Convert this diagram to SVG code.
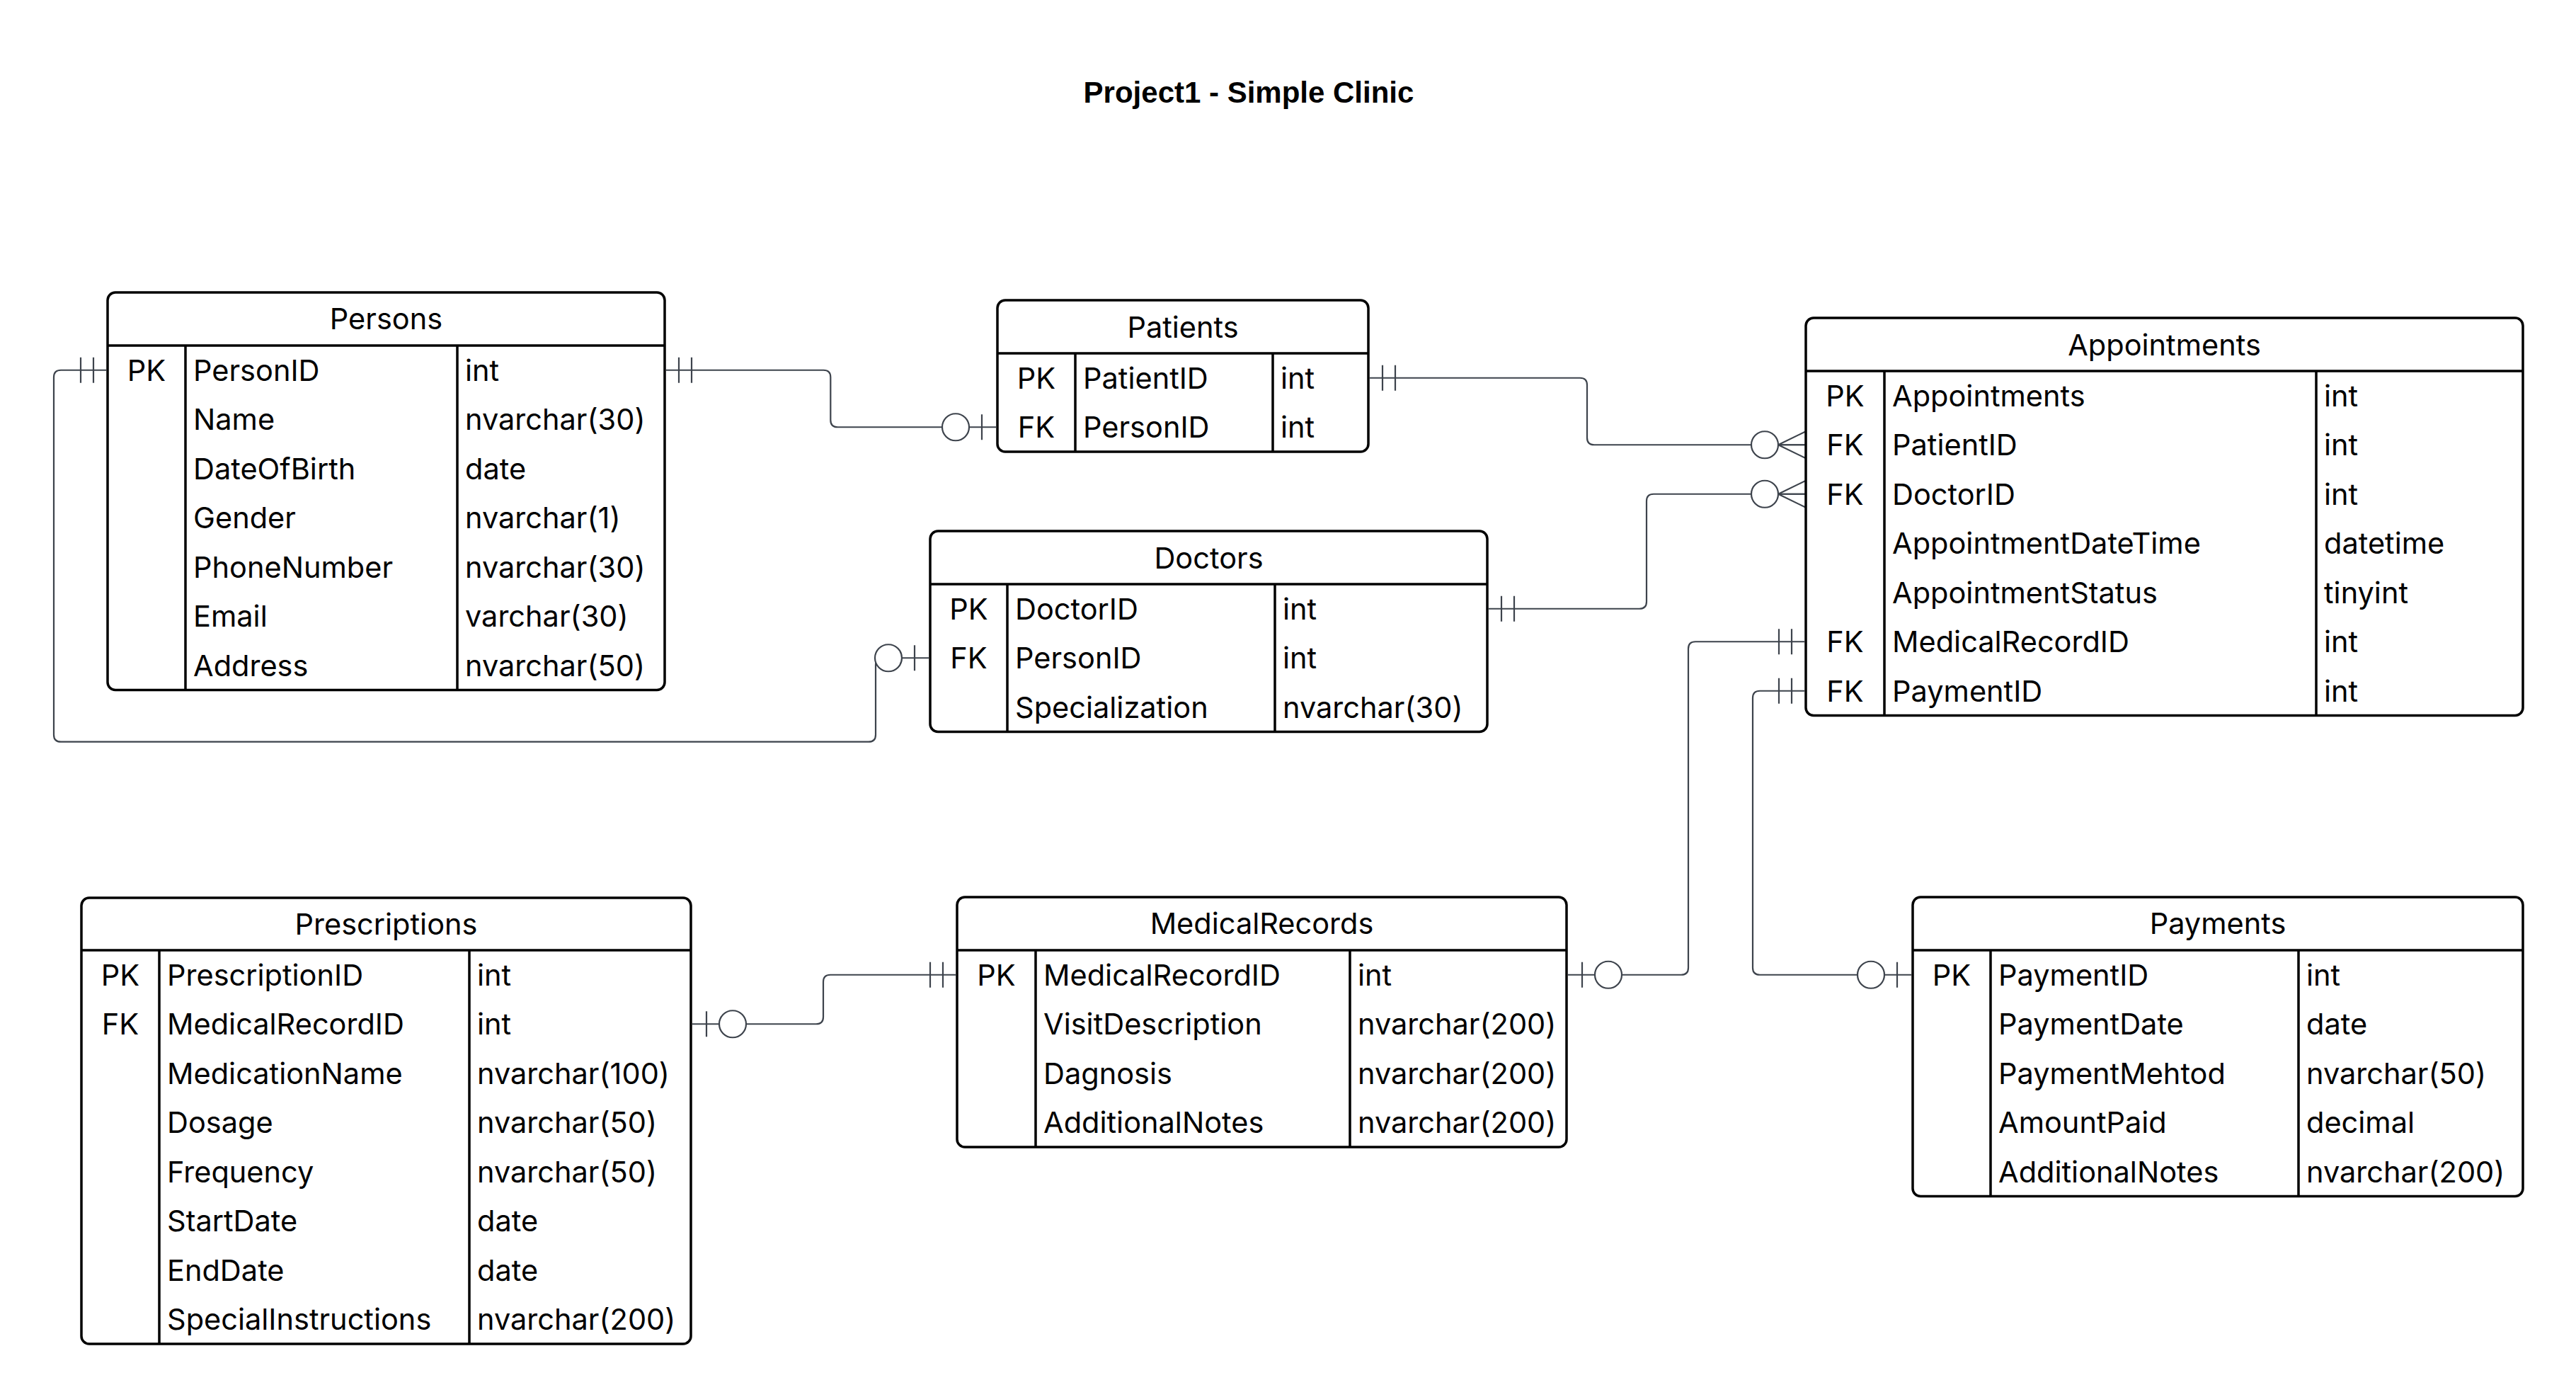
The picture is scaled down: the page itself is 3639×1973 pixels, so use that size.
<svg xmlns="http://www.w3.org/2000/svg" xmlns:xlink="http://www.w3.org/1999/xlink" width="3639" height="1973" viewBox="0 0 3639 1973">
<style>
.bg{fill:#ffffff}
.box{fill:#ffffff;stroke:#000000;stroke-width:3.5}
.ln{fill:none;stroke:#000000;stroke-width:3.5}
.t{font-family:Inter,"Noto Sans","Liberation Sans",sans-serif;font-size:41.5px;fill:#000000}
.h{text-anchor:middle}
.k{text-anchor:middle}
.title{font-family:"Liberation Sans",Arial,sans-serif;font-size:42px;font-weight:bold;fill:#000000;text-anchor:middle}
.con{fill:none;stroke:#3d434c;stroke-width:2.2}
.end{fill:#ffffff;stroke:#3d434c;stroke-width:2.2}
</style>
<defs>
<g id="mandOne"><path class="con" d="M20,-18 V18 M38,-18 V18"/></g>
<g id="zeroOne"><path class="con" d="M22,-18 V18"/><circle class="end" cx="59" cy="0" r="19"/></g>
<g id="zeroMany"><circle class="end" cx="58" cy="0" r="19"/><path class="con" d="M39,0 L0,-19 M39,0 L0,0 M39,0 L0,19"/></g>
</defs>
<rect class="bg" x="0" y="0" width="3639" height="1973"/>
<text class="title" x="1764" y="145">Project1 - Simple Clinic</text>

<g id="connectors">
<path class="con" d="M941,522.75 H1163.3 Q1173.3,522.75 1173.3,532.75 V593.25 Q1173.3,603.25 1183.3,603.25 H1407"/>
<path class="con" d="M150,522.75 H86 Q76,522.75 76,532.75 V1037.7 Q76,1047.7 86,1047.7 H1227 Q1237,1047.7 1237,1037.7 V939.25 Q1237,929.25 1247,929.25 H1312"/>
<path class="con" d="M1935,533.75 H2232 Q2242,533.75 2242,543.75 V618.25 Q2242,628.25 2252,628.25 H2549"/>
<path class="con" d="M2103,859.75 H2316 Q2326,859.75 2326,849.75 V707.75 Q2326,697.75 2336,697.75 H2549"/>
<path class="con" d="M2549,906.25 H2395 Q2385,906.25 2385,916.25 V1366.75 Q2385,1376.75 2375,1376.75 H2215"/>
<path class="con" d="M2549,975.75 H2486 Q2476,975.75 2476,985.75 V1366.75 Q2476,1376.75 2486,1376.75 H2700"/>
<path class="con" d="M978,1446.25 H1153 Q1163,1446.25 1163,1436.25 V1386.75 Q1163,1376.75 1173,1376.75 H1350"/>
<use xlink:href="#mandOne" transform="translate(939,522.75)"/>
<use xlink:href="#zeroOne" transform="translate(1409,603.25) scale(-1,1)"/>
<use xlink:href="#mandOne" transform="translate(152,522.75) scale(-1,1)"/>
<use xlink:href="#zeroOne" transform="translate(1314,929.25) scale(-1,1)"/>
<use xlink:href="#mandOne" transform="translate(1933,533.75)"/>
<use xlink:href="#zeroMany" transform="translate(2551,628.25) scale(-1,1)"/>
<use xlink:href="#mandOne" transform="translate(2101,859.75)"/>
<use xlink:href="#zeroMany" transform="translate(2551,697.75) scale(-1,1)"/>
<use xlink:href="#mandOne" transform="translate(2551,906.25) scale(-1,1)"/>
<use xlink:href="#zeroOne" transform="translate(2213,1376.75)"/>
<use xlink:href="#mandOne" transform="translate(2551,975.75) scale(-1,1)"/>
<use xlink:href="#zeroOne" transform="translate(2702,1376.75) scale(-1,1)"/>
<use xlink:href="#zeroOne" transform="translate(976,1446.25)"/>
<use xlink:href="#mandOne" transform="translate(1352,1376.75) scale(-1,1)"/>
</g>

<g id="persons">
<rect class="box" x="152" y="413" width="787" height="561.5" rx="11"/>
<path class="ln" d="M152,488 H939 M262,488 V974.5 M646,488 V974.5"/>
<text class="t h" x="545.5" y="465">Persons</text>
<text class="t k" x="207" y="537.5">PK</text>
<text class="t" x="273" y="537.5">PersonID</text><text class="t" x="657" y="537.5">int</text>
<text class="t" x="273" y="607">Name</text><text class="t" x="657" y="607">nvarchar(30)</text>
<text class="t" x="273" y="676.5">DateOfBirth</text><text class="t" x="657" y="676.5">date</text>
<text class="t" x="273" y="746">Gender</text><text class="t" x="657" y="746">nvarchar(1)</text>
<text class="t" x="273" y="815.5">PhoneNumber</text><text class="t" x="657" y="815.5">nvarchar(30)</text>
<text class="t" x="273" y="885">Email</text><text class="t" x="657" y="885">varchar(30)</text>
<text class="t" x="273" y="954.5">Address</text><text class="t" x="657" y="954.5">nvarchar(50)</text>
</g>

<g id="patients">
<rect class="box" x="1409" y="424" width="524" height="214" rx="11"/>
<path class="ln" d="M1409,499 H1933 M1519,499 V638 M1798,499 V638"/>
<text class="t h" x="1671" y="476.5">Patients</text>
<text class="t k" x="1464" y="548.5">PK</text>
<text class="t" x="1530" y="548.5">PatientID</text><text class="t" x="1809" y="548.5">int</text>
<text class="t k" x="1464" y="618">FK</text>
<text class="t" x="1530" y="618">PersonID</text><text class="t" x="1809" y="618">int</text>
</g>

<g id="doctors">
<rect class="box" x="1314" y="750" width="787" height="283.5" rx="11"/>
<path class="ln" d="M1314,825 H2101 M1423,825 V1033.5 M1801,825 V1033.5"/>
<text class="t h" x="1707.5" y="802.5">Doctors</text>
<text class="t k" x="1368.5" y="874.5">PK</text>
<text class="t" x="1434" y="874.5">DoctorID</text><text class="t" x="1812" y="874.5">int</text>
<text class="t k" x="1368.5" y="944">FK</text>
<text class="t" x="1434" y="944">PersonID</text><text class="t" x="1812" y="944">int</text>
<text class="t" x="1434" y="1013.5">Specialization</text><text class="t" x="1812" y="1013.5">nvarchar(30)</text>
</g>

<g id="appointments">
<rect class="box" x="2551" y="449" width="1013" height="561.5" rx="11"/>
<path class="ln" d="M2551,524 H3564 M2662,524 V1010.5 M3272,524 V1010.5"/>
<text class="t h" x="3057.5" y="501.5">Appointments</text>
<text class="t k" x="2606.5" y="573.5">PK</text>
<text class="t" x="2673" y="573.5">Appointments</text><text class="t" x="3283" y="573.5">int</text>
<text class="t k" x="2606.5" y="643">FK</text>
<text class="t" x="2673" y="643">PatientID</text><text class="t" x="3283" y="643">int</text>
<text class="t k" x="2606.5" y="712.5">FK</text>
<text class="t" x="2673" y="712.5">DoctorID</text><text class="t" x="3283" y="712.5">int</text>
<text class="t" x="2673" y="782">AppointmentDateTime</text><text class="t" x="3283" y="782">datetime</text>
<text class="t" x="2673" y="851.5">AppointmentStatus</text><text class="t" x="3283" y="851.5">tinyint</text>
<text class="t k" x="2606.5" y="921">FK</text>
<text class="t" x="2673" y="921">MedicalRecordID</text><text class="t" x="3283" y="921">int</text>
<text class="t k" x="2606.5" y="990.5">FK</text>
<text class="t" x="2673" y="990.5">PaymentID</text><text class="t" x="3283" y="990.5">int</text>
</g>

<g id="prescriptions">
<rect class="box" x="115" y="1268" width="861" height="630" rx="11"/>
<path class="ln" d="M115,1342 H976 M225,1342 V1898 M663,1342 V1898"/>
<text class="t h" x="545.5" y="1319.5">Prescriptions</text>
<text class="t k" x="170" y="1391.5">PK</text>
<text class="t" x="236" y="1391.5">PrescriptionID</text><text class="t" x="674" y="1391.5">int</text>
<text class="t k" x="170" y="1461">FK</text>
<text class="t" x="236" y="1461">MedicalRecordID</text><text class="t" x="674" y="1461">int</text>
<text class="t" x="236" y="1530.5">MedicationName</text><text class="t" x="674" y="1530.5">nvarchar(100)</text>
<text class="t" x="236" y="1600">Dosage</text><text class="t" x="674" y="1600">nvarchar(50)</text>
<text class="t" x="236" y="1669.5">Frequency</text><text class="t" x="674" y="1669.5">nvarchar(50)</text>
<text class="t" x="236" y="1739">StartDate</text><text class="t" x="674" y="1739">date</text>
<text class="t" x="236" y="1808.5">EndDate</text><text class="t" x="674" y="1808.5">date</text>
<text class="t" x="236" y="1878">SpecialInstructions</text><text class="t" x="674" y="1878">nvarchar(200)</text>
</g>

<g id="medicalrecords">
<rect class="box" x="1352" y="1267" width="861" height="353" rx="11"/>
<path class="ln" d="M1352,1342 H2213 M1463,1342 V1620 M1907,1342 V1620"/>
<text class="t h" x="1782.5" y="1319">MedicalRecords</text>
<text class="t k" x="1407.5" y="1391.5">PK</text>
<text class="t" x="1474" y="1391.5">MedicalRecordID</text><text class="t" x="1918" y="1391.5">int</text>
<text class="t" x="1474" y="1461">VisitDescription</text><text class="t" x="1918" y="1461">nvarchar(200)</text>
<text class="t" x="1474" y="1530.5">Dagnosis</text><text class="t" x="1918" y="1530.5">nvarchar(200)</text>
<text class="t" x="1474" y="1600">AdditionalNotes</text><text class="t" x="1918" y="1600">nvarchar(200)</text>
</g>

<g id="payments">
<rect class="box" x="2702" y="1267" width="862" height="422.5" rx="11"/>
<path class="ln" d="M2702,1342 H3564 M2812,1342 V1689.5 M3247,1342 V1689.5"/>
<text class="t h" x="3133" y="1319">Payments</text>
<text class="t k" x="2757" y="1391.5">PK</text>
<text class="t" x="2823" y="1391.5">PaymentID</text><text class="t" x="3258" y="1391.5">int</text>
<text class="t" x="2823" y="1461">PaymentDate</text><text class="t" x="3258" y="1461">date</text>
<text class="t" x="2823" y="1530.5">PaymentMehtod</text><text class="t" x="3258" y="1530.5">nvarchar(50)</text>
<text class="t" x="2823" y="1600">AmountPaid</text><text class="t" x="3258" y="1600">decimal</text>
<text class="t" x="2823" y="1669.5">AdditionalNotes</text><text class="t" x="3258" y="1669.5">nvarchar(200)</text>
</g>
</svg>
